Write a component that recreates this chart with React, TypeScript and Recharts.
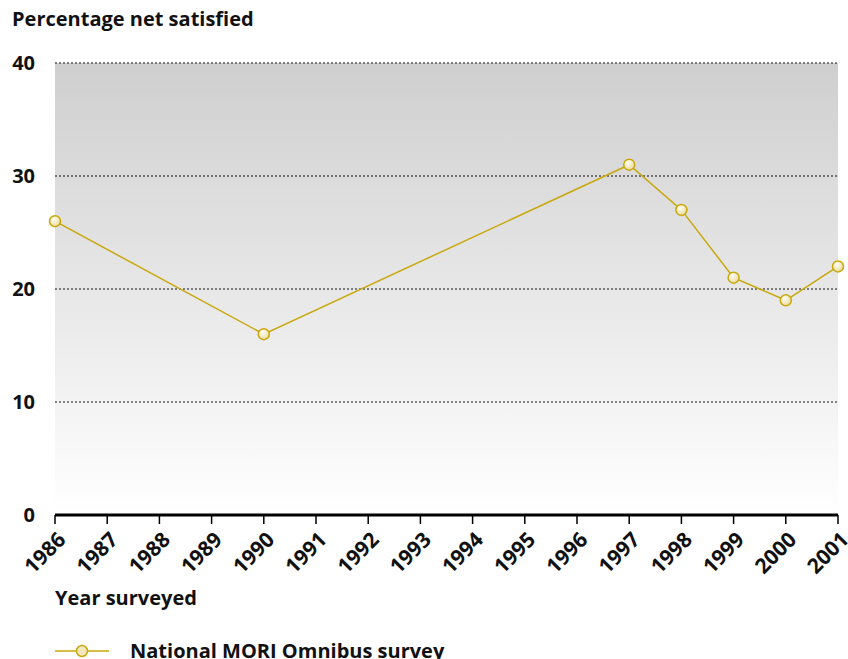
import React from 'react';
import { LineChart, Line, XAxis, YAxis, CartesianGrid } from 'recharts';

const years = [1986, 1990, 1997, 1998, 1999, 2000, 2001];
const netSatisfied = [26, 16, 31, 27, 21, 19, 22];
const yearTicks = [1986, 1987, 1988, 1989, 1990, 1991, 1992, 1993, 1994, 1995, 1996, 1997, 1998, 1999, 2000, 2001];
const valueTicks = [0, 10, 20, 30, 40];

const data = years.map((year, i) => ({ year, value: netSatisfied[i] }));

const FONT = '"Open Sans", "Noto Sans", sans-serif';
const GOLD = '#c8a80c';

function YTick(props: any) {
  const { x, y, payload } = props;
  return (
    <text x={x} y={y} dy="0.36em" textAnchor="end" fontFamily={FONT} fontWeight={700} fontSize={20} fill="#111">
      {payload.value}
    </text>
  );
}

function XTick(props: any) {
  const { x, y, payload } = props;
  const tx = x + 12;
  const ty = y + 13;
  return (
    <text x={tx} y={ty} textAnchor="end" fontFamily={FONT} fontWeight={700} fontSize={21} fill="#111"
      transform={`rotate(-45, ${tx}, ${ty})`}>
      {payload.value}
    </text>
  );
}

function Dot(props: any) {
  const { cx, cy } = props;
  return <circle cx={cx} cy={cy} r={5.5} fill="url(#dotFill)" stroke={GOLD} strokeWidth={1.5} />;
}

export default function App() {
  const labelStyle: React.CSSProperties = { position: 'absolute', fontFamily: FONT, fontWeight: 700, fontSize: 20, color: '#111', whiteSpace: 'nowrap' };
  return (
    <div style={{ position: 'absolute', left: 0, top: 0, width: 848, height: 659, background: '#fff', overflow: 'hidden' }}>
      <div style={{ ...labelStyle, left: 12, top: 5 }}>Percentage net satisfied</div>
      <div style={{ ...labelStyle, left: 55, top: 584 }}>Year surveyed</div>
      <div style={{ ...labelStyle, left: 55, top: 637, display: 'flex', alignItems: 'center', lineHeight: '28px' }}>
        <svg width={54} height={14} style={{ marginRight: 21 }}>
          <line x1={0} y1={7} x2={54} y2={7} stroke={GOLD} strokeWidth={1.5} />
          <circle cx={27} cy={7} r={5.5} fill="#f3e9bd" stroke={GOLD} strokeWidth={1.5} />
        </svg>
        <span>National MORI Omnibus survey</span>
      </div>
      <LineChart width={848} height={659} data={data} margin={{ top: 63, right: 10, left: 0, bottom: 84 }}>
        <defs>
          <linearGradient id="plotBg" x1="0" y1="0" x2="0" y2="1">
            <stop offset="0%" stopColor="#cfcfcf" />
            <stop offset="100%" stopColor="#ffffff" />
          </linearGradient>
          <radialGradient id="dotFill" cx="40%" cy="35%" r="70%">
            <stop offset="0%" stopColor="#fffdf2" />
            <stop offset="100%" stopColor="#e8da9a" />
          </radialGradient>
        </defs>
        <CartesianGrid vertical={false} fill="url(#plotBg)" stroke="#111" strokeDasharray="2 2" strokeWidth={1} />
        <XAxis
          dataKey="year"
          type="number"
          domain={[1986, 2001]}
          ticks={yearTicks}
          interval={0}
          height={60}
          axisLine={{ stroke: '#000', strokeWidth: 3 }}
          tickLine={{ stroke: '#000', strokeWidth: 1.5 }}
          tickSize={9}
          tickMargin={4}
          tick={<XTick />}
        />
        <YAxis
          domain={[0, 40]}
          ticks={valueTicks}
          width={55}
          axisLine={false}
          tickLine={false}
          tickSize={0}
          tickMargin={20}
          tick={<YTick />}
        />
        <Line
          type="linear"
          dataKey="value"
          stroke={GOLD}
          strokeWidth={1.5}
          dot={<Dot />}
          activeDot={false}
          isAnimationActive={false}
        />
      </LineChart>
    </div>
  );
}
